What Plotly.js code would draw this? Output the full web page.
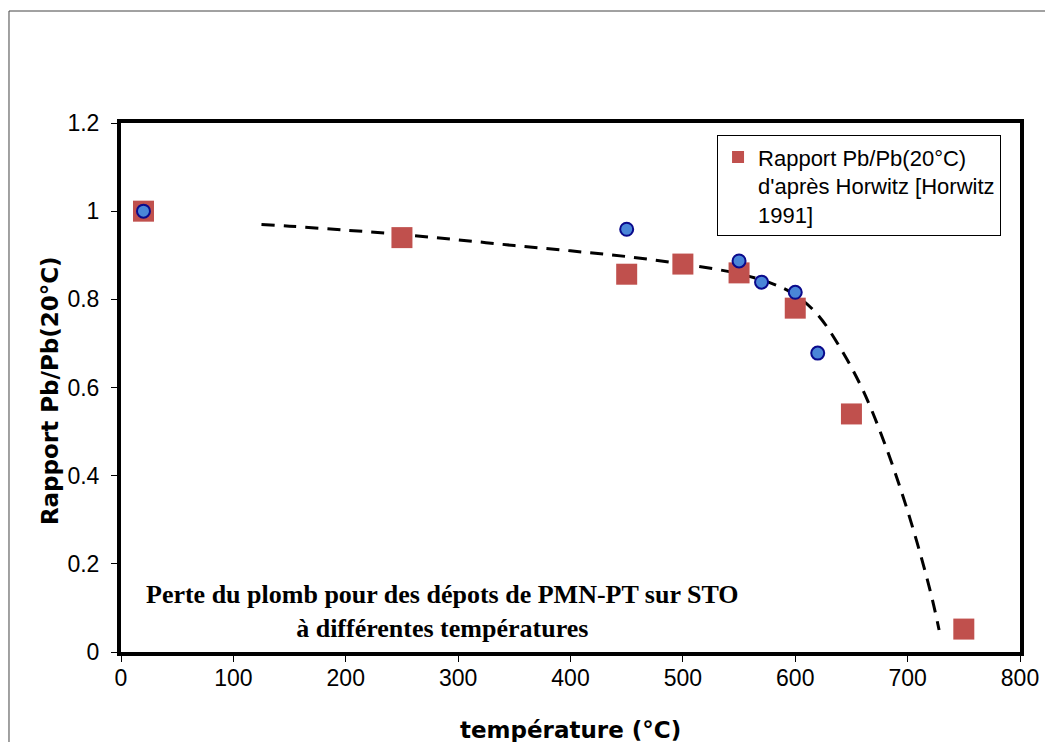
<!DOCTYPE html>
<html>
<head>
<meta charset="utf-8">
<script src="https://cdn.plot.ly/plotly-3.0.1.min.js"></script>
<style>
html,body{margin:0;padding:0;background:#fff;}
#chart{width:1045px;height:742px;}
</style>
</head>
<body>
<div id="chart"></div>
<script>
// Horwitz reference ratios
const horwitzTemp = [20, 250, 450, 500, 550, 600, 650, 750];
const horwitzRatio = [1.0, 0.94, 0.857, 0.88, 0.86, 0.78, 0.54, 0.052];
// PMN-PT on STO measurements
const sampleTemp = [20, 450, 550, 570, 600, 620];
const sampleRatio = [1.0, 0.959, 0.887, 0.839, 0.816, 0.678];
// Trend curve (dashed)
const trendTemp = [125, 150, 200, 250, 300, 350, 400, 450, 500, 550, 580, 600, 620, 640, 660, 680, 700, 720, 728];
const trendRatio = [0.97, 0.966, 0.957, 0.947, 0.935, 0.922, 0.91, 0.897, 0.88, 0.858, 0.835, 0.81, 0.765, 0.69, 0.595, 0.47, 0.32, 0.14, 0.05];
const xTicks = [0, 100, 200, 300, 400, 500, 600, 700, 800];
const yTicks = [0, 0.2, 0.4, 0.6, 0.8, 1, 1.2];

const traces = [
  {
    x: trendTemp, y: trendRatio, type: 'scatter', mode: 'lines',
    line: {color: '#000', width: 3, dash: '13px,9px', shape: 'spline'},
    showlegend: false, hoverinfo: 'skip'
  },
  {
    x: horwitzTemp, y: horwitzRatio, type: 'scatter', mode: 'markers',
    name: "Rapport Pb/Pb(20°C)<br>d'après Horwitz [Horwitz<br>1991]",
    marker: {symbol: 'square', size: 21, color: '#C0504D', line: {width: 0}}
  },
  {
    x: sampleTemp, y: sampleRatio, type: 'scatter', mode: 'markers',
    showlegend: false,
    marker: {symbol: 'circle', size: 13, color: '#4A86D8', line: {width: 2, color: '#0A0A8C'}}
  }
];

const axisCommon = {
  showline: true, linewidth: 4, linecolor: '#000', mirror: true,
  ticks: 'outside', ticklen: 6, tickwidth: 1, tickcolor: '#000',
  showgrid: false, zeroline: false,
  tickfont: {family: 'Liberation Sans, Arial, sans-serif', size: 23, color: '#000'}
};

const layout = {
  width: 1045, height: 742,
  margin: {l: 121, r: 25, t: 123, b: 90},
  paper_bgcolor: '#fff', plot_bgcolor: '#fff',
  xaxis: Object.assign({}, axisCommon, {range: [0, 800], tickvals: xTicks, ticktext: xTicks.map(String), ticklabelstandoff: -4}),
  yaxis: Object.assign({}, axisCommon, {range: [0, 1.2], tickvals: yTicks, ticktext: yTicks.map(String), ticklabelstandoff: 7}),
  showlegend: true,
  legend: {
    x: 0.663, y: 0.977, xanchor: 'left', yanchor: 'top', valign: 'top',
    bgcolor: '#fff', bordercolor: '#000', borderwidth: 1,
    font: {family: 'Liberation Sans, Arial, sans-serif', size: 22, color: '#000'},
    itemsizing: 'constant'
  },
  annotations: [
    {
      text: 'Rapport Pb/Pb(20°C)', textangle: -90,
      xref: 'paper', yref: 'paper', x: -0.079, y: 0.495,
      xanchor: 'center', yanchor: 'middle', showarrow: false,
      font: {family: 'DejaVu Sans, sans-serif', size: 23, color: '#000', weight: 'bold'}
    },
    {
      text: 'température (°C)',
      xref: 'paper', yref: 'paper', x: 0.5, y: -0.147,
      xanchor: 'center', yanchor: 'middle', showarrow: false,
      font: {family: 'DejaVu Sans, sans-serif', size: 23, color: '#000', weight: 'bold'}
    },
    {
      text: 'Perte du plomb pour des dépots de PMN-PT sur STO<br>à différentes températures',
      xref: 'paper', yref: 'paper', x: 0.358, y: 0.076,
      xanchor: 'center', yanchor: 'middle', showarrow: false, align: 'center',
      font: {family: 'Liberation Serif, Times New Roman, serif', size: 26, color: '#000', weight: 'bold'}
    }
  ],
  shapes: [
    {
      type: 'rect', xref: 'paper', yref: 'paper',
      x0: -0.1246, y0: -0.2, x1: 1.05, y1: 1.2117,
      line: {color: '#444', width: 1}, fillcolor: 'rgba(0,0,0,0)', layer: 'below'
    }
  ]
};

Plotly.newPlot('chart', traces, layout, {displayModeBar: false, staticPlot: true});
</script>
</body>
</html>
